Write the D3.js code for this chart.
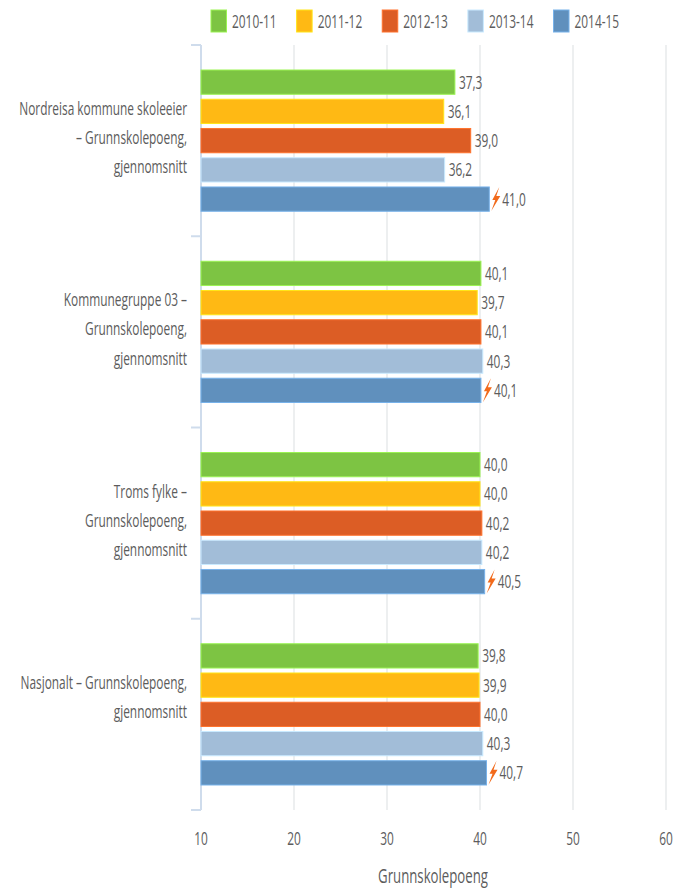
<!DOCTYPE html>
<html><head><meta charset="utf-8">
<script src="https://cdn.jsdelivr.net/npm/d3@7"></script>
<style>html,body{margin:0;padding:0;background:#fff}svg{display:block}text{font-family:"Open Sans",sans-serif}</style>
</head><body><div id="chart"></div>
<script>
const categories = ["Nordreisa kommune skoleeier – Grunnskolepoeng, gjennomsnitt","Kommunegruppe 03 – Grunnskolepoeng, gjennomsnitt","Troms fylke – Grunnskolepoeng, gjennomsnitt","Nasjonalt – Grunnskolepoeng, gjennomsnitt"];
const categoryLines = [["Nordreisa kommune skoleeier","– Grunnskolepoeng,","gjennomsnitt"],["Kommunegruppe 03 –","Grunnskolepoeng,","gjennomsnitt"],["Troms fylke –","Grunnskolepoeng,","gjennomsnitt"],["Nasjonalt – Grunnskolepoeng,","gjennomsnitt"]];
const seriesNames = ["2010-11","2011-12","2012-13","2013-14","2014-15"];
const seriesColors = ["#7dc443","#ffb914","#dc5d25","#a2bdd8","#6090bd"];
const v201011 = [37.3,40.1,40.0,39.8];
const v201112 = [36.1,39.7,40.0,39.9];
const v201213 = [39.0,40.1,40.2,40.0];
const v201314 = [36.2,40.3,40.2,40.3];
const v201415 = [41.0,40.1,40.5,40.7];
const seriesValues = [v201011,v201112,v201213,v201314,v201415];
const flagged = ["2014-15"];
const xTicks = [10,20,30,40,50,60];
const axisTitle = "Grunnskolepoeng";

const W=687,H=888,SX=0.66,FS=18,TC="#5c5c5c";
const svg=d3.select("#chart").append("svg").attr("width",W).attr("height",H).attr("viewBox",[0,0,W,H]);
const x=d3.scaleLinear().domain([10,60]).range([201,666]);
const y=d3.scaleBand().domain(categories).range([45,810]);
const inner=d3.scaleBand().domain(seriesNames).range([0,y.bandwidth()]).paddingInner(.17).paddingOuter(.855);
const fmt=v=>v.toFixed(1).replace(".",",");
function label(g,tx,ty,str,anchor,size){
  return g.append("text").attr("transform",`translate(${tx},${ty}) scale(${SX},1)`)
    .attr("text-anchor",anchor||"start").attr("font-size",size||FS).attr("fill",TC).text(str);
}
// grid
svg.append("g").selectAll("line").data(xTicks.slice(1)).join("line")
  .attr("x1",d=>x(d)).attr("x2",d=>x(d)).attr("y1",45).attr("y2",810)
  .attr("stroke","#e4e6e8").attr("stroke-width",1.3);
// category axis
const ax=svg.append("g").attr("stroke","#cfdcec").attr("stroke-width",2).attr("fill","none");
ax.append("line").attr("x1",x(10)).attr("x2",x(10)).attr("y1",45).attr("y2",810);
ax.selectAll(".t").data([...categories.map(c=>y(c)),810]).join("line").attr("class","t")
  .attr("x1",x(10)-10).attr("x2",x(10)).attr("y1",d=>d).attr("y2",d=>d);
// bars
seriesNames.forEach((s,i)=>{
  const g=svg.append("g");
  categories.forEach((c,j)=>{
    const v=seriesValues[i][j], top=y(c)+inner(s), bw=inner.bandwidth();
    g.append("rect").attr("x",x(10)).attr("y",top).attr("width",x(v)-x(10)).attr("height",bw)
      .attr("fill",seriesColors[i]).attr("stroke",d3.color(seriesColors[i]).brighter(.6)).attr("stroke-width",1);
    const mid=top+bw/2+6.5;
    if(flagged.includes(s)){
      const bx=x(v)+2, cy=top+bw/2;
      g.append("path").attr("transform",`translate(${bx},${cy})`)
        .attr("d",d3.line()([[8,-12],[1,1],[4,1],[0,12],[9,-3],[5,-3],[8,-12]]))
        .attr("fill","#f26a1b");
      label(g,x(v)+13,mid,fmt(v));
    } else label(g,x(v)+4,mid,fmt(v));
  });
});
// category labels
categories.forEach((c,j)=>{
  const lines=categoryLines[j], first=y(c)+70;
  lines.forEach((l,k)=>label(svg,187,first+k*29.2,l,"end"));
});
// x tick labels
xTicks.forEach(t=>label(svg,x(t),845,t,"middle"));
label(svg,433,883,axisTitle,"middle",20);
// legend
const lx=d3.scalePoint().domain(seriesNames).range([211,553.5]);
seriesNames.forEach((s,i)=>{
  svg.append("rect").attr("x",lx(s)).attr("y",10).attr("width",15.5).attr("height",22)
    .attr("fill",seriesColors[i]).attr("stroke",d3.color(seriesColors[i]).brighter(.6)).attr("stroke-width",1);
  label(svg,lx(s)+21,28,s);
});
</script></body></html>
